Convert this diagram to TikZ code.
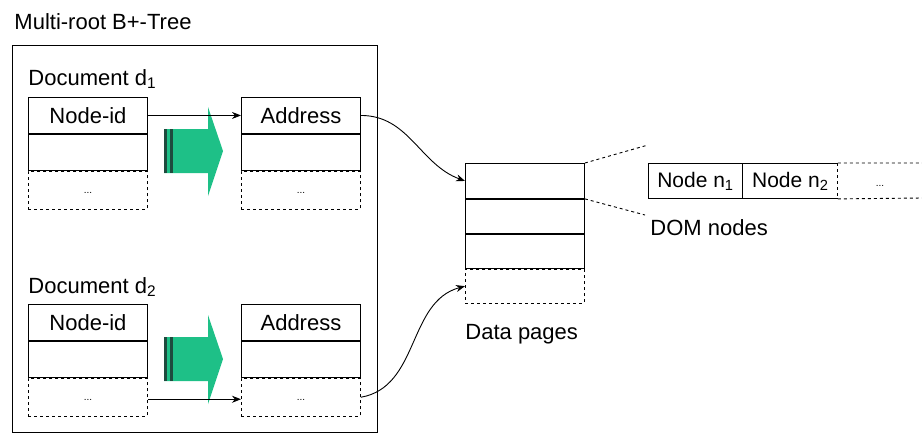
\documentclass[tikz,border=0pt]{standalone}
\usepackage{xcolor}
\usepackage{fontspec}
\setmainfont{Liberation Sans}
\usepackage{tikz}
\usetikzlibrary{arrows.meta,positioning}
\definecolor{fatgreen}{RGB}{30,192,135}
\definecolor{fatdark}{RGB}{30,75,62}

\begin{document}
\begin{tikzpicture}[x=1pt,y=-1pt,>={Stealth[length=9pt,width=7pt]},line width=0.9pt,
    cell/.style={draw,minimum width=119pt,minimum height=36pt,inner sep=0pt,font=\fontsize{22}{24}\selectfont},
    dotcell/.style={cell,dashed,minimum height=38pt,font=\fontsize{10}{11}\selectfont},
    pagecell/.style={cell,minimum height=34pt},
    domcell/.style={cell,minimum width=94pt,minimum height=35pt,font=\fontsize{21}{23}\selectfont},
    lbl/.style={anchor=west,inner sep=0pt,font=\fontsize{22}{24}\selectfont}]
    \useasboundingbox (0,0) rectangle (922,437);

    % titles
    \node[lbl] (title) at (14,22) {Multi-root B+-Tree};
    \node[draw,line width=1.1pt,anchor=north west,minimum width=365pt,minimum height=387pt] (tree) at (12,45) {};

    % document d1
    \node[lbl] (doc1) at (28,79) {Document d\textsubscript{1}};
    \node[cell,anchor=north west] (nid1) at (28,97) {Node-id};
    \node[cell] (nid1b) [below=0pt of nid1] {};
    \node[dotcell] (nid1c) [below=0pt of nid1b] {\raisebox{-6pt}{...}};
    \node[cell,anchor=north west] (adr1) at (241,97) {Address};
    \node[cell] (adr1b) [below=0pt of adr1] {};
    \node[dotcell] (adr1c) [below=0pt of adr1b] {\raisebox{-6pt}{...}};

    % document d2
    \node[lbl] (doc2) at (28,287) {Document d\textsubscript{2}};
    \node[cell,anchor=north west] (nid2) at (28,304) {Node-id};
    \node[cell] (nid2b) [below=0pt of nid2] {};
    \node[dotcell] (nid2c) [below=0pt of nid2b] {\raisebox{-6pt}{...}};
    \node[cell,anchor=north west] (adr2) at (241,304) {Address};
    \node[cell] (adr2b) [below=0pt of adr2] {};
    \node[dotcell] (adr2c) [below=0pt of adr2b] {\raisebox{-6pt}{...}};

    % fat arrows
    \foreach \dy in {0,208} {
      \fill[fatgreen] (164,129+\dy) -- (208,129+\dy) -- (208,107+\dy) -- (223,151+\dy)
        -- (208,196+\dy) -- (208,173+\dy) -- (164,173+\dy) -- cycle;
      \fill[fatdark] (164,129+\dy) rectangle (167,173+\dy);
      \fill[fatdark] (170,129+\dy) rectangle (172.5,173+\dy);
    }

    % data pages
    \node[pagecell,anchor=north west,minimum height=35pt] (dp1) at (465,163) {};
    \node[pagecell] (dp2) [below=0pt of dp1] {};
    \node[pagecell] (dp3) [below=0pt of dp2] {};
    \node[pagecell,dashed] (dp4) [below=0pt of dp3] {};
    \node[lbl] (pages) at (465,334) {Data pages};

    % DOM nodes
    \node[domcell,anchor=north west] (n1) at (648,163) {Node n\textsubscript{1}};
    \node[domcell,draw=none] (n2) [right=0pt of n1] {Node n\textsubscript{2}};
    \draw (n1.north east) -- (n2.north east) (n1.south east) -- (n2.south east);
    \draw[dashed] (n2.north east) -- (n2.south east);
    \coordinate (rtop) at (922,163);
    \coordinate (rbot) at (922,198);
    \draw[dashed] (n2.north east) -- (rtop) (n2.south east) -- (rbot);
    \node[font=\fontsize{10}{11}\selectfont] (ndots) at (880,186) {...};
    \node[lbl] (dom) at (650,228) {DOM nodes};
    \coordinate (fanup) at (648,145);
    \coordinate (fanlo) at (645,215);
    \draw[dashed] (dp1.north east) -- (fanup);
    \draw[dashed] (dp1.south east) -- (fanlo);

    % connectors
    \draw[->] (nid1.east) -- (adr1.west);
    \draw[->] ([yshift=-2pt]nid2c.east) -- ([yshift=-2pt]adr2c.west);
    \draw[->] (adr1.east) to[out=0,in=160] (dp1.west);
    \draw[->] (adr2c.east) to[out=10,in=195] (dp4.west);
\end{tikzpicture}
\end{document}
